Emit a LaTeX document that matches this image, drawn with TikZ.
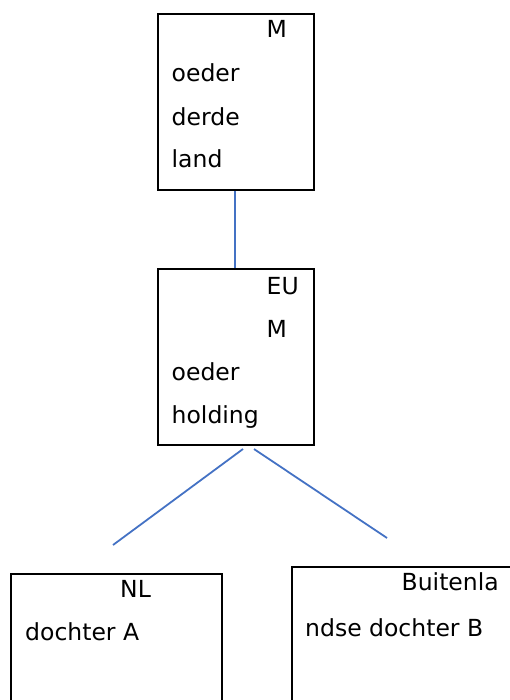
\documentclass[tikz,border=0pt]{standalone}
\usepackage{fontspec}
\setmainfont{DejaVu Sans}
\usepackage{tikz}
\usetikzlibrary{calc}

\begin{document}
\begin{tikzpicture}[x=1pt,y=-1pt,
	box/.style={draw, black, line width=2pt, anchor=north west, inner sep=0},
	txt/.style={anchor=base west, inner sep=0, font=\fontsize{23.5}{23.5}\selectfont},
	link/.style={line width=1.8pt, color={rgb,255:red,68;green,114;blue,196}}]
			\useasboundingbox (0,0) rectangle (510,700);
			\clip (0,0) rectangle (510,700);

			\node (moeder) [box, minimum width=156, minimum height=176] at (157,13) {};
			\node (holding) [box, minimum width=156, minimum height=176] at (157,268) {};
			\node (dochterA) [box, minimum width=211, minimum height=200] at (10,573) {};
			\node (dochterB) [box, minimum width=260, minimum height=200] at (291,566) {};

			%teksten in de vakken
			\node (m1) [txt] at ($(moeder.north west) + (109.5, 25)$) {M};
			\node (m2) [txt] at ($(moeder.north west) + (14.5, 69)$) {oeder};
			\node (m3) [txt] at ($(moeder.north west) + (14.5, 113)$) {derde};
			\node (m4) [txt] at ($(moeder.north west) + (14.5, 155)$) {land};

			\node (h1) [txt] at ($(holding.north west) + (109.5, 26)$) {EU};
			\node (h2) [txt] at ($(holding.north west) + (109.5, 69)$) {M};
			\node (h3) [txt] at ($(holding.north west) + (14.5, 112.5)$) {oeder};
			\node (h4) [txt] at ($(holding.north west) + (14.5, 155)$) {holding};

			\node (a1) [txt] at ($(dochterA.north west) + (110, 24)$) {NL};
			\node (a2) [txt] at ($(dochterA.north west) + (15, 67)$) {dochter A};

			\node (b1) [txt] at ($(dochterB.north west) + (110.5, 24)$) {Buitenla};
			\node (b2) [txt] at ($(dochterB.north west) + (14, 70)$) {ndse dochter B};

			%lijnen
			\coordinate (mS) at ($(moeder.south) + (-1, 0)$);
			\coordinate (hN) at ($(holding.north) + (-1, 0)$);
			\coordinate (hL) at ($(holding.south) + (7, 3)$);
			\coordinate (hR) at ($(holding.south) + (18, 3)$);
			\coordinate (eA) at (113,545);
			\coordinate (eB) at (387,538);

			\draw[link] (mS) -- (hN);
			\draw[link] (hL) -- (eA);
			\draw[link] (hR) -- (eB);

		\end{tikzpicture}
\end{document}
